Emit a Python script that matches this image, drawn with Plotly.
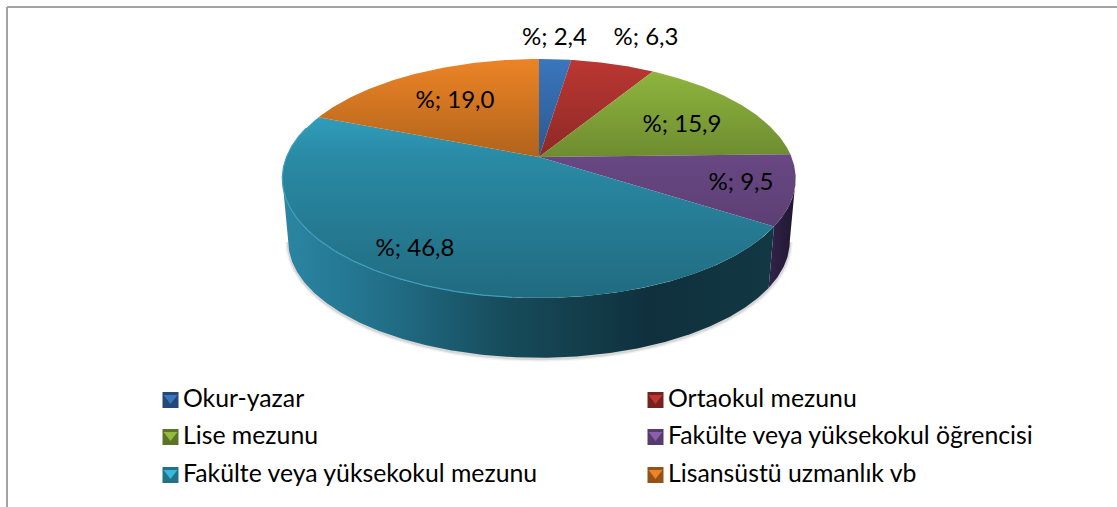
import numpy as np
import plotly.graph_objects as go

# ---- data ----
categories = ["Okur-yazar", "Ortaokul mezunu", "Lise mezunu",
              "Fakülte veya yüksekokul öğrencisi",
              "Fakülte veya yüksekokul mezunu", "Lisansüstü uzmanlık vb"]
values = [2.4, 6.3, 15.9, 9.5, 46.8, 19.0]
label_prefix = "%; "

# ---- style ----
base_colors = ["#3A76BE", "#BC3732", "#93BB40", "#8A5FAE", "#38B8DC", "#EC8426"]
FONT = "Lato"
LABEL_SIZE = 24
LEGEND_SIZE = 24.8

# pie projection (perspective disc on a pixel-scaled axis)
CX, CY, SX, A, K = 539.0, 157.0, 252.5, 115.6, 0.18
DEPTH, BOTTOM_SCALE = 63.0, 0.977
TOP_Y, BOTTOM_Y = 59.0, 298.0
# rim angles at which the disc's outline turns away from the viewer
TANGENT_R = float(np.degrees(np.arccos(-K)))
TANGENT_L = 360.0 - TANGENT_R


def rim(theta_deg, scale=1.0, dy=0.0):
    t = np.radians(theta_deg)
    d = 1 + K * np.cos(t)
    return CX + scale * SX * np.sin(t) / d, CY + dy - scale * A * np.cos(t) / d


def hex2rgb(c):
    return tuple(int(c[i:i + 2], 16) for i in (1, 3, 5))


def shade(c, f):
    return "rgb(%d,%d,%d)" % tuple(min(255, round(v * f)) for v in hex2rgb(c))


def arc(a, b):
    return np.linspace(a, b, max(3, int(abs(b - a)) * 2))


fig = go.Figure()

edges = np.cumsum([0] + values) / sum(values) * 360.0

# soft shadow under the wall
sx, sy = rim(arc(TANGENT_R, TANGENT_L), BOTTOM_SCALE, DEPTH)
for w, op in ((6, 0.05), (3, 0.10)):
    fig.add_trace(go.Scatter(x=sx, y=sy + 1, mode="lines", hoverinfo="skip", showlegend=False,
                             line=dict(color="#000000", width=w), opacity=op))

# side walls of the two slices that face the viewer
wall_scale = {
    3: [[0, "#33234a"], [1, "#1f1630"]],
    4: [[0, "#2B86A3"], [0.2, "#22708a"], [0.45, "#174c5c"], [0.75, "#0f303c"], [1, "#123844"]],
}
for i, cs in wall_scale.items():
    th = arc(max(edges[i], TANGENT_R), min(edges[i + 1], TANGENT_L))
    xt, yt = rim(th)
    xb, yb = rim(th[::-1], BOTTOM_SCALE, DEPTH)
    fig.add_trace(go.Scatter(
        x=np.r_[xt, xb], y=np.r_[yt, yb], mode="lines", fill="toself",
        line=dict(width=0), hoverinfo="skip", showlegend=False,
        fillgradient=dict(type="horizontal", colorscale=cs,
                          start=float(np.min(np.r_[xt, xb])), stop=float(np.max(np.r_[xt, xb])))))

# top surface
for i, name in enumerate(categories):
    th = arc(edges[i], edges[i + 1])
    xt, yt = rim(th)
    c = base_colors[i]
    fig.add_trace(go.Scatter(
        x=np.r_[CX, xt, CX], y=np.r_[CY, yt, CY], mode="lines", fill="toself",
        line=dict(width=0), name=name, text=f"{values[i]}", hoverinfo="name+text", showlegend=False,
        fillgradient=dict(type="vertical",
                          colorscale=[[0, shade(c, 1.0)], [0.41, shade(c, 0.75)], [1, shade(c, 0.58)]],
                          start=TOP_Y, stop=BOTTOM_Y)))

# bright rim on the large slice
hx, hy = rim(arc(185, 285))
fig.add_trace(go.Scatter(x=hx, y=hy, mode="lines", hoverinfo="skip", showlegend=False,
                         line=dict(color="#3E9FBC", width=1.2)))

# value labels
label_x = [554.5, 646, 682, 741, 415, 455]
label_y = [39, 39, 126, 184, 250, 102]
labels = [label_prefix + f"{v:.1f}".replace(".", ",") for v in values]
fig.add_trace(go.Scatter(x=label_x, y=label_y, text=labels, mode="text", hoverinfo="skip",
                         showlegend=False, textposition="middle center",
                         textfont=dict(family=FONT, size=LABEL_SIZE, color="#000000")))

# legend drawn as two columns of bevelled swatches
leg_x = [170.5, 655.5]
leg_y = [400, 437, 475]
for i, name in enumerate(categories):
    x, y = leg_x[i % 2], leg_y[i // 2]
    c = base_colors[i]
    fig.add_trace(go.Scatter(x=[x], y=[y], mode="markers", hoverinfo="skip", showlegend=False,
                             marker=dict(symbol="square", size=16, color=shade(c, 0.62), line=dict(width=0))))
    fig.add_trace(go.Scatter(x=[x], y=[y - 2], mode="markers", hoverinfo="skip", showlegend=False,
                             marker=dict(symbol="triangle-down", size=12, color=shade(c, 1.0), line=dict(width=0))))
    fig.add_trace(go.Scatter(x=[x + 12.5], y=[y + 1], mode="text", text=[name], hoverinfo="skip", showlegend=False,
                             textposition="middle right",
                             textfont=dict(family=FONT, size=LEGEND_SIZE, color="#000000")))

frame = dict(type="line", xref="x", yref="y", line=dict(color="#a3a3a3", width=2))
fig.update_layout(
    width=1117, height=507, margin=dict(l=0, r=0, t=0, b=0),
    paper_bgcolor="#ffffff", plot_bgcolor="#ffffff", showlegend=False,
    xaxis=dict(range=[0, 1117], visible=False, fixedrange=True),
    yaxis=dict(range=[507, 0], visible=False, fixedrange=True),
    shapes=[dict(frame, x0=7, x1=1117, y0=7, y1=7), dict(frame, x0=7, x1=7, y0=7, y1=507)],
)
fig.write_html("out.html", config={"displayModeBar": False},
               post_script="document.body.style.margin='0';document.body.style.overflow='hidden';")
